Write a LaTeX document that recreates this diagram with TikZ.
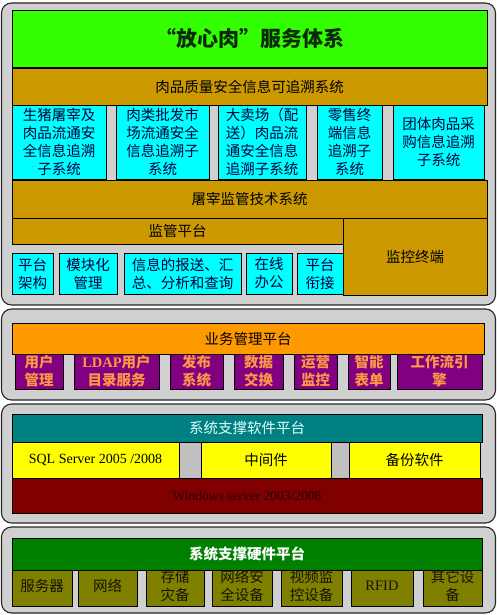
\documentclass[tikz,border=0pt]{standalone}
\usepackage{fontspec}
\setmainfont{Noto Sans CJK SC}
\newfontfamily\lserif{Liberation Serif}
\definecolor{panelgray}{RGB}{208,208,208}
\definecolor{limeg}{RGB}{51,255,0}
\definecolor{goldb}{RGB}{204,153,0}
\definecolor{cyanb}{RGB}{0,255,255}
\definecolor{orangeb}{RGB}{255,153,0}
\definecolor{purpleb}{RGB}{128,0,128}
\definecolor{purpletext}{RGB}{255,150,70}
\definecolor{tealb}{RGB}{0,128,128}
\definecolor{yellowb}{RGB}{255,255,0}
\definecolor{maroonb}{RGB}{128,0,0}
\definecolor{dkgreenb}{RGB}{0,128,0}
\definecolor{oliveb}{RGB}{128,128,0}
\definecolor{divgray}{RGB}{192,192,192}
\definecolor{titletext}{RGB}{10,40,10}
\newcommand\bx[7]{%
 \pgfmathsetmacro\mybw{#4-#2}\pgfmathsetmacro\mybh{#5-#3}%
 \pgfmathsetmacro\mycx{(#2+#4)/2}\pgfmathsetmacro\mycy{-(#3+#5)/2}%
 \node[#6,minimum width=\mybw pt,minimum height=\mybh pt] (#1) at (\mycx pt,\mycy pt) {#7};}
\tikzset{
 base/.style={draw=black,line width=0.6pt,inner sep=0pt,align=center,font={\fontsize{14.5}{18}\selectfont}},
 panel/.style={fill=panelgray,draw=black!85,line width=1.1pt,rounded corners=10pt},
 titlebox/.style={base,fill=limeg,text=titletext,font={\fontsize{21}{24}\selectfont\bfseries}},
 goldbox/.style={base,fill=goldb,text=black},
 cyanbox/.style={base,fill=cyanb,text={rgb,255:red,0;green,0;blue,60}},
 orangebox/.style={base,fill=orangeb,text=black},
 purplebox/.style={base,fill=purpleb,text=purpletext,font={\fontsize{14.5}{18.5}\selectfont\bfseries}},
 tealbox/.style={base,fill=tealb,text={rgb,255:red,225;green,255;blue,255}},
 yellowbox/.style={base,fill=yellowb,text=black},
 divbox/.style={base,fill=divgray},
 maroonbox/.style={base,fill=maroonb,text={rgb,255:red,40;green,0;blue,0},font={\fontsize{13.5}{16}\selectfont\lserif}},
 hwbox/.style={base,fill=dkgreenb,text=white,font={\fontsize{14.5}{18}\selectfont\bfseries}},
 olivebox/.style={base,fill=oliveb,text={rgb,255:red,20;green,20;blue,0}}
}
\begin{document}
\begin{tikzpicture}[x=1pt,y=1pt]
\path[use as bounding box,fill=white] (0,0) rectangle (497,-615);
% panels
\draw[panel] (1.5,-3) rectangle (495.5,-305);
\draw[panel] (1.5,-309) rectangle (495.5,-400);
\draw[panel] (1.5,-404) rectangle (495.5,-523);
\draw[panel] (1.5,-527) rectangle (495.5,-613);
% panel 1
\bx{title}{12}{10}{487}{67}{titlebox}{“放心肉”服务体系}
\bx{trace}{12}{68}{487}{105}{goldbox}{肉品质量安全信息可追溯系统}
\bx{c1}{12}{105}{106}{179}{cyanbox}{生猪屠宰及\\肉品流通安\\全信息追溯\\子系统}
\bx{c2}{116}{105}{209}{179}{cyanbox}{肉类批发市\\场流通安全\\信息追溯子\\系统}
\bx{c3}{218}{105}{306}{179}{cyanbox}{大卖场（配\\送）肉品流\\通安全信息\\追溯子系统}
\bx{c4}{317}{105}{382}{179}{cyanbox}{零售终\\端信息\\追溯子\\系统}
\bx{c5}{393}{105}{484}{179}{cyanbox}{团体肉品采\\购信息追溯\\子系统}
\bx{slaughter}{12}{180}{487}{218}{goldbox}{屠宰监管技术系统}
\bx{jgpt}{12}{218}{343}{244}{goldbox}{监管平台}
\bx{jkzd}{343}{218}{487}{295}{goldbox}{监控终端}
\bx{s1}{12}{253}{53}{294}{cyanbox}{平台\\架构}
\bx{s2}{59}{253}{117}{294}{cyanbox}{模块化\\管理}
\bx{s3}{124}{253}{241}{294}{cyanbox}{信息的报送、汇\\总、分析和查询}
\bx{s4}{246}{253}{292}{294}{cyanbox}{在线\\办公}
\bx{s5}{297}{253}{343}{294}{cyanbox}{平台\\衔接}
% panel 2
\bx{p1}{15}{353}{63}{389}{purplebox}{用户\\管理}
\bx{p2}{74}{353}{159}{389}{purplebox}{{\lserif LDAP}用户\\目录服务}
\bx{p3}{170}{353}{223}{389}{purplebox}{发布\\系统}
\bx{p4}{234}{353}{283}{389}{purplebox}{数据\\交换}
\bx{p5}{294}{353}{337}{389}{purplebox}{运营\\监控}
\bx{p6}{348}{353}{390}{389}{purplebox}{智能\\表单}
\bx{p7}{397}{353}{482}{389}{purplebox}{工作流引\\擎}
\bx{biz}{12}{323}{484}{354}{orangebox}{业务管理平台}
% panel 3
\bx{sw}{12}{414}{482}{442}{tealbox}{系统支撑软件平台}
\bx{sql}{12}{442}{179}{478}{yellowbox}{{\lserif\fontsize{14}{16}\selectfont SQL Server 2005 /2008}}
\bx{d1}{179}{442}{201}{478}{divbox}{}
\bx{mid}{201}{442}{331}{478}{yellowbox}{中间件}
\bx{d2}{331}{442}{349}{478}{divbox}{}
\bx{bak}{349}{442}{480}{478}{yellowbox}{备份软件}
\bx{win}{12}{478}{482}{513}{maroonbox}{Windows server 2003/2008}
% panel 4
\bx{o1}{12}{566}{72}{606}{olivebox}{服务器}
\bx{o2}{78}{566}{137}{606}{olivebox}{网络}
\bx{o3}{146}{566}{204}{606}{olivebox}{存储\\灾备}
\bx{o4}{212}{566}{272}{606}{olivebox}{网络安\\全设备}
\bx{o5}{281}{566}{342}{606}{olivebox}{视频监\\控设备}
\bx{o6}{351}{566}{413}{606}{olivebox}{{\lserif RFID}}
\bx{o7}{423}{566}{482}{606}{olivebox}{其它设\\备}
\bx{hw}{12}{538}{482}{570}{hwbox}{系统支撑硬件平台}
\end{tikzpicture}
\end{document}
